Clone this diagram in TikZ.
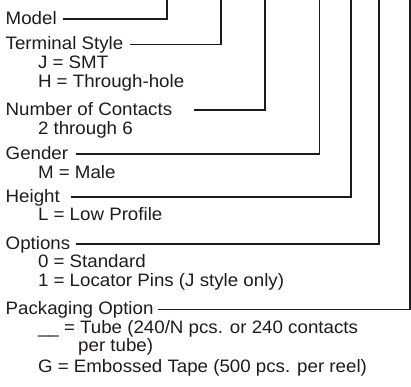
\documentclass[tikz,border=0pt]{standalone}
\usepackage{fontspec}
\setmainfont{Liberation Sans}[FakeStretch=1.04]
\definecolor{ink}{RGB}{30,27,28}
\begin{document}
\begin{tikzpicture}[x=1pt,y=-1pt,
  lbl/.style={anchor=base west, inner sep=0pt, text=ink, font=\fontsize{18}{19}\selectfont},
  lead/.style={draw=ink, line width=1.1pt}]
\useasboundingbox (0,0) rectangle (411,386);
% headings
\node[lbl] (model)  at (5.5,24)  {Model};
\node[lbl] (term)   at (5.5,49.5){Terminal Style};
\node[lbl] (num)    at (5.5,115) {Number of Contacts};
\node[lbl] (gender) at (5.5,159) {Gender};
\node[lbl] (height) at (5.5,202) {Height};
\node[lbl] (opts)   at (5.5,249) {Options};
\node[lbl] (pack)   at (5.5,314) {Packaging Option};
% values
\node[lbl] (tj) at (37.8,68.5)  {J = SMT};
\node[lbl] (th) at (37.8,87.5)  {H = Through-hole};
\node[lbl] (nc) at (37.8,134.5) {2 through 6};
\node[lbl] (gm) at (37.8,178)   {M = Male};
\node[lbl] (hl) at (37.8,220.5) {L = Low Profile};
\node[lbl] (o0) at (37.8,267.5) {0 = Standard};
\node[lbl] (o1) at (37.8,286.5) {1 = Locator Pins (J style only)};
\node[lbl] (pt) at (37.8,333)   {\_\_ = Tube (240/N pcs. or 240 contacts};
\node[lbl] (pt2) at (78,351.5) {per tube)};
\node[lbl] (pg) at (37.8,372)   {G = Embossed Tape (500 pcs. per reel)};
% leader coordinates
\coordinate (mA) at (63,19);    \coordinate (mB) at (167,0);
\coordinate (tA) at (130,44.5); \coordinate (tB) at (221,0);
\coordinate (nA) at (194,110);  \coordinate (nB) at (265,0);
\coordinate (gA) at (76,154);   \coordinate (gB) at (319.5,0);
\coordinate (hA) at (71,197);   \coordinate (hB) at (351,0);
\coordinate (oA) at (76,244);   \coordinate (oB) at (379,0);
\coordinate (pA) at (158,309.5);\coordinate (pB) at (410,0);
\draw[lead] (mA) -| (mB);
\draw[lead] (tA) -| (tB);
\draw[lead] (nA) -| (nB);
\draw[lead] (gA) -| (gB);
\draw[lead] (hA) -| (hB);
\draw[lead] (oA) -| (oB);
\draw[lead] (pA) -| (pB);
\end{tikzpicture}
\end{document}
